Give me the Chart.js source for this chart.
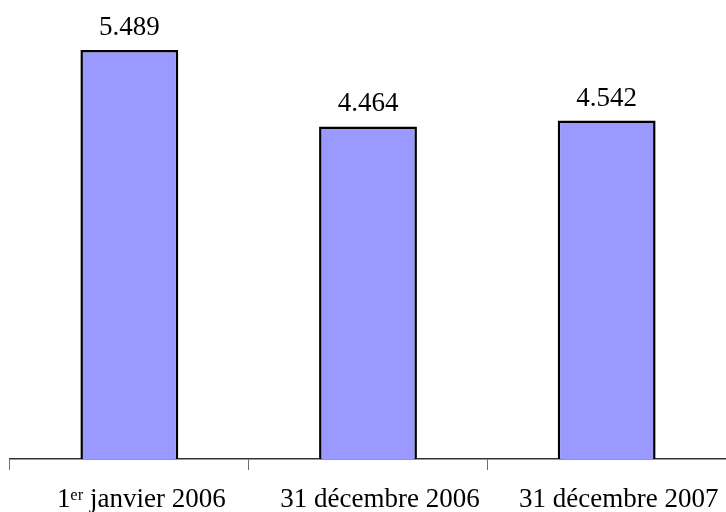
<!DOCTYPE html>
<html>
<head>
<meta charset="utf-8">
<script src="https://cdn.jsdelivr.net/npm/chart.js@4/dist/chart.umd.min.js"></script>
<style>
  html, body { margin: 0; padding: 0; background: #fff; }
  #wrap { width: 726px; height: 512px; position: relative; }
</style>
</head>
<body>
<div id="wrap"><canvas id="chart"></canvas></div>
<script>
// chart values
const categories = ['1\u1D49\u02B3 janvier 2006', '31 décembre 2006', '31 décembre 2007'];
const values = [5489, 4464, 4542];

// 5489 -> "5.489"
const fmt = (v) => String(v).replace(/\B(?=(\d{3})+(?!\d))/g, '.');

// Draws the value above each bar
const valueLabels = {
  id: 'valueLabels',
  afterDatasetsDraw(chart) {
    const ctx = chart.ctx;
    const meta = chart.getDatasetMeta(0);
    ctx.save();
    ctx.font = '27px "Liberation Serif", "Times New Roman", serif';
    ctx.fillStyle = '#000';
    ctx.textAlign = 'center';
    ctx.textBaseline = 'alphabetic';
    meta.data.forEach((bar, i) => {
      ctx.fillText(fmt(values[i]), bar.x, bar.y - 15);
    });
    ctx.restore();
  }
};

new Chart(document.getElementById('chart'), {
  type: 'bar',
  data: {
    labels: categories,
    datasets: [{
      data: values,
      backgroundColor: '#9999FF',
      borderColor: '#000',
      borderWidth: 2.5,
      categoryPercentage: 1,
      barPercentage: 0.41
    }]
  },
  options: {
    responsive: true,
    maintainAspectRatio: false,
    animation: false,
    layout: { padding: { left: 10, right: 0, top: 12, bottom: 0 } },
    scales: {
      x: {
        afterFit: (scale) => { scale.height = 53; },
        grid: {
          offset: true,
          drawOnChartArea: false,
          drawTicks: true,
          tickLength: 11,
          color: '#707070'
        },
        border: { display: true, color: '#333', width: 1.5 },
        ticks: {
          color: '#000',
          padding: 14,
          labelOffset: 12,
          maxRotation: 0,
          autoSkip: false,
          font: { family: '"Liberation Serif", "Times New Roman", serif', size: 27 }
        }
      },
      y: {
        display: false,
        min: 0,
        max: 6000
      }
    },
    plugins: {
      legend: { display: false },
      tooltip: { enabled: false }
    }
  },
  plugins: [valueLabels]
});
</script>
</body>
</html>
